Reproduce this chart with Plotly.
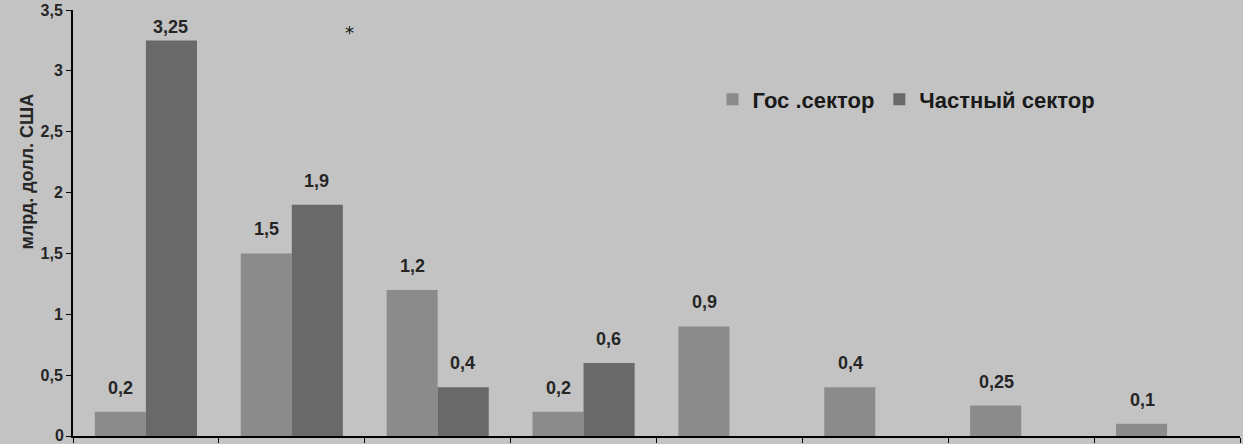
import plotly.graph_objects as go

categories = ["Кат. 1", "Кат. 2", "Кат. 3", "Кат. 4", "Кат. 5", "Кат. 6", "Кат. 7", "Кат. 8"]
gov_values = [0.2, 1.5, 1.2, 0.2, 0.9, 0.4, 0.25, 0.1]
private_values = [3.25, 1.9, 0.4, 0.6, None, None, None, None]
y_ticks = [0, 0.5, 1, 1.5, 2, 2.5, 3, 3.5]

FONT = "Liberation Sans, Arial, sans-serif"
BG = "#c3c3c3"
TXT = "#262626"


def fmt(v):
    return ("%g" % v).replace(".", ",")


fig = go.Figure()
fig.add_trace(go.Bar(x=categories, y=gov_values, name="<b>Гос .сектор</b>",
                     marker=dict(color="#8b8b8b", line=dict(width=0))))
fig.add_trace(go.Bar(x=categories, y=private_values, name="<b>Частный сектор</b>",
                     marker=dict(color="#696969", line=dict(width=0))))

# value labels above bars
for i, v in enumerate(gov_values):
    if v is not None:
        fig.add_annotation(x=i, y=v, xref="x", yref="y", text="<b>%s</b>" % fmt(v),
                           showarrow=False, xshift=-25, yanchor="bottom", yshift=12,
                           font=dict(family=FONT, size=18, color=TXT))
for i, v in enumerate(private_values):
    if v is not None:
        fig.add_annotation(x=i, y=v, xref="x", yref="y", text="<b>%s</b>" % fmt(v),
                           showarrow=False, xshift=25, yanchor="bottom",
                           yshift=12 if v < 3 else 1,
                           font=dict(family=FONT, size=18, color=TXT))

# the bottom tick label sits at the page edge, so plotly drops it; draw it as an annotation
fig.add_annotation(x=0, y=y_ticks[0], xref="paper", yref="y", text="<b>%s</b>" % fmt(y_ticks[0]),
                   showarrow=False, xanchor="right", xshift=-7, yshift=1,
                   font=dict(family=FONT, size=16, color=TXT))

fig.add_annotation(x=-0.05, y=0.62, xref="paper", yref="paper", text="<b>млрд. долл. США</b>",
                   textangle=-90, showarrow=False,
                   font=dict(family=FONT, size=18, color=TXT))
fig.add_annotation(x=0.231, y=0.976, xref="paper", yref="paper", text="*",
                   showarrow=False, font=dict(family="DejaVu Sans", size=18, color="#111"))

fig.update_layout(
    width=1243, height=444,
    margin=dict(l=73, r=3, t=10, b=8),
    paper_bgcolor=BG, plot_bgcolor=BG,
    barmode="group", bargap=0.3, bargroupgap=0,
    font=dict(family=FONT, color=TXT),
    showlegend=True,
    legend=dict(orientation="h", x=0.548, y=0.79, xanchor="left", yanchor="middle",
                bgcolor="rgba(0,0,0,0)", font=dict(family=FONT, size=22, color="#1a1a1a"),
                itemwidth=30),
)
fig.update_xaxes(type="category", showticklabels=False, showline=True, linecolor="black",
                 linewidth=2, ticks="outside", tickson="boundaries", ticklen=5,
                 tickcolor="black", showgrid=False)
fig.update_yaxes(range=[0, 3.5], tickvals=y_ticks,
                 ticktext=["<b>%s</b>" % fmt(t) if t else "" for t in y_ticks],
                 showline=True, linecolor="black", linewidth=2, ticks="outside", ticklen=5,
                 tickcolor="black", showgrid=False, zeroline=False,
                 tickfont=dict(family=FONT, size=16, color=TXT))

fig.write_html("out.html", config={"displayModeBar": False},
               post_script="document.body.style.margin='0';")
